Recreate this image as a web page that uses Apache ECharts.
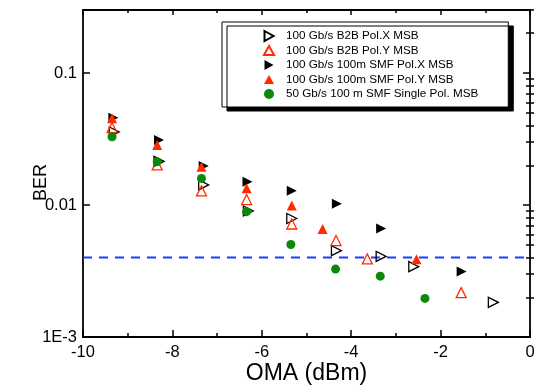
<!DOCTYPE html>
<html>
<head>
<meta charset="utf-8">
<script src="https://cdn.jsdelivr.net/npm/echarts@6/dist/echarts.min.js"></script>
<style>html,body{margin:0;padding:0;background:#fff;}#c{width:546px;height:389px;}</style>
</head>
<body>
<div id="c"></div>
<script>
const seriesNames = [
  '100 Gb/s B2B Pol.X MSB',
  '100 Gb/s B2B Pol.Y MSB',
  '100 Gb/s 100m SMF Pol.X MSB',
  '100 Gb/s 100m SMF Pol.Y MSB',
  '50 Gb/s 100 m SMF Single Pol. MSB'
];
const b2bX_x = [-9.3, -8.3, -7.3, -6.3, -5.33, -4.33, -3.33, -2.6, -0.82];
const b2bX_y = [0.0357, 0.0214, 0.0142, 0.0090, 0.0079, 0.00451, 0.00408, 0.00341, 0.00183];
const b2bY_x = [-9.35, -8.34, -7.35, -6.34, -5.33, -4.34, -3.64, -1.54];
const b2bY_y = [0.0385, 0.0201, 0.0128, 0.0110, 0.00718, 0.00538, 0.00390, 0.00217];
const smfX_x = [-9.32, -8.3, -7.3, -6.32, -5.33, -4.32, -3.33, -1.53];
const smfX_y = [0.0458, 0.0311, 0.0197, 0.0150, 0.0128, 0.0102, 0.00665, 0.00313];
const smfY_x = [-9.35, -8.34, -7.35, -6.34, -5.33, -4.64, -2.54];
const smfY_y = [0.0454, 0.0285, 0.0195, 0.0134, 0.0099, 0.00658, 0.00388];
const single_x = [-9.35, -8.34, -7.35, -6.34, -5.35, -4.35, -3.35, -2.35];
const single_y = [0.0329, 0.0213, 0.0159, 0.0089, 0.00502, 0.00327, 0.00289, 0.00196];
const thresholdX = [-10, 0];
const thresholdY = [0.004, 0.004];
const xTicks = [-10, -8, -6, -4, -2, 0];
const yMajorTicks = [0.001, 0.01, 0.1];
const yTickLabels = ['1E-3', '0.01', '0.1'];
const yMinorTicks = [0.002,0.003,0.004,0.005,0.006,0.007,0.008,0.009,0.02,0.03,0.04,0.05,0.06,0.07,0.08,0.09,0.2,0.3];

const FONT = 'Liberation Sans';
const pairs = (xs, ys) => xs.map((x, i) => [x, ys[i]]);
const RED = '#ff2a00', GREEN = '#0a8a0a';
const RIGHT_TRI = 'path://M0,0L9,5L0,10Z';
const UP_TRI = 'path://M5,0L10,9L0,9Z';

const chart = echarts.init(document.getElementById('c'), null, {renderer: 'canvas'});
const lineCommon = {show: true, onZero: false, lineStyle: {color: '#000', width: 1.8}};

const yBase = {type: 'log', min: 0.001, max: 0.3, logBase: 10, splitLine: {show: false}};
const option = {
  animation: false,
  backgroundColor: '#fff',
  textStyle: {fontFamily: FONT},
  grid: {left: 83, right: 16, top: 10, bottom: 52, outerBoundsMode: 'none', containLabel: false},
  legend: {
    orient: 'vertical', left: 222, top: 22,
    padding: [8, 30, 7, 41],
    itemWidth: 10, itemHeight: 10, itemGap: 2.5,
    backgroundColor: '#fff', borderColor: '#000', borderWidth: 1,
    shadowColor: '#000', shadowBlur: 0, shadowOffsetX: 5, shadowOffsetY: 4,
    textStyle: {fontFamily: FONT, fontSize: 11.7, color: '#000', padding: [0, 0, 0, 7]},
    data: [
      {name: seriesNames[0], icon: RIGHT_TRI},
      {name: seriesNames[1], icon: UP_TRI},
      {name: seriesNames[2], icon: RIGHT_TRI},
      {name: seriesNames[3], icon: UP_TRI},
      {name: seriesNames[4], icon: 'circle'}
    ]
  },
  xAxis: [
    {type: 'value', min: -10, max: 0, interval: 2, position: 'bottom',
     name: 'OMA (dBm)', nameLocation: 'middle', nameGap: 25, nameMoveOverlap: false,
     nameTextStyle: {fontFamily: FONT, fontSize: 23, color: '#000'},
     axisLine: lineCommon,
     axisTick: {inside: true, length: 7, lineStyle: {color: '#000', width: 1.5}},
     minorTick: {show: true, splitNumber: 2, length: 4, lineStyle: {color: '#000', width: 1.5}},
     axisLabel: {fontFamily: FONT, fontSize: 16.5, color: '#000', margin: 7,
       customValues: xTicks, formatter: v => String(v)},
     splitLine: {show: false}},
    {type: 'value', min: -10, max: 0, interval: 2, position: 'top',
     axisLine: lineCommon,
     axisTick: {inside: true, length: 5, lineStyle: {color: '#000', width: 1.5}},
     minorTick: {show: true, splitNumber: 2, length: 3, lineStyle: {color: '#000', width: 1.5}},
     axisLabel: {show: false}, splitLine: {show: false}}
  ],
  yAxis: [
    Object.assign({}, yBase, {position: 'left',
     name: 'BER', nameLocation: 'middle', nameGap: 33, nameMoveOverlap: false,
     nameTextStyle: {fontFamily: FONT, fontSize: 18, color: '#000', padding: [0, 18, 0, 0]},
     axisLine: lineCommon,
     axisTick: {inside: true, length: 7, customValues: yMajorTicks, lineStyle: {color: '#000', width: 1.5}},
     axisLabel: {fontFamily: FONT, fontSize: 16.5, color: '#000', margin: 6,
       customValues: yMajorTicks,
       formatter: v => { const i = yMajorTicks.findIndex(t => Math.abs(t - v) / t < 1e-6); return i >= 0 ? yTickLabels[i] : ''; }}}),
    Object.assign({}, yBase, {position: 'left',
     axisLine: {show: false},
     axisTick: {inside: true, length: 4, customValues: yMinorTicks, lineStyle: {color: '#000', width: 1.5}},
     axisLabel: {show: false}}),
    Object.assign({}, yBase, {position: 'right',
     axisLine: lineCommon,
     axisTick: {inside: true, length: 7, customValues: yMajorTicks, lineStyle: {color: '#000', width: 1.5}},
     axisLabel: {show: false}}),
    Object.assign({}, yBase, {position: 'right',
     axisLine: {show: false},
     axisTick: {inside: true, length: 4, customValues: yMinorTicks, lineStyle: {color: '#000', width: 1.5}},
     axisLabel: {show: false}})
  ],
  series: [
    {name: 'threshold', type: 'line', data: pairs(thresholdX, thresholdY),
     symbol: 'none', silent: true, z: 1,
     lineStyle: {color: '#1a3cff', width: 2, type: [9, 7]}},
    {name: seriesNames[0], type: 'scatter', data: pairs(b2bX_x, b2bX_y),
     symbol: 'triangle', symbolRotate: -90, symbolSize: 10,
     itemStyle: {color: 'rgba(255,255,255,0)', borderColor: '#000', borderWidth: 1.3, opacity: 1}},
    {name: seriesNames[1], type: 'scatter', data: pairs(b2bY_x, b2bY_y),
     symbol: 'triangle', symbolSize: 10,
     itemStyle: {color: 'rgba(255,255,255,0)', borderColor: RED, borderWidth: 1.3, opacity: 1}},
    {name: seriesNames[2], type: 'scatter', data: pairs(smfX_x, smfX_y),
     symbol: 'triangle', symbolRotate: -90, symbolSize: 10,
     itemStyle: {color: '#000', opacity: 1}},
    {name: seriesNames[3], type: 'scatter', data: pairs(smfY_x, smfY_y),
     symbol: 'triangle', symbolSize: 10,
     itemStyle: {color: RED, opacity: 1}},
    {name: seriesNames[4], type: 'scatter', data: pairs(single_x, single_y),
     symbol: 'circle', symbolSize: 9,
     itemStyle: {color: GREEN, opacity: 1}}
  ]
};
chart.setOption(option);
</script>
</body>
</html>
